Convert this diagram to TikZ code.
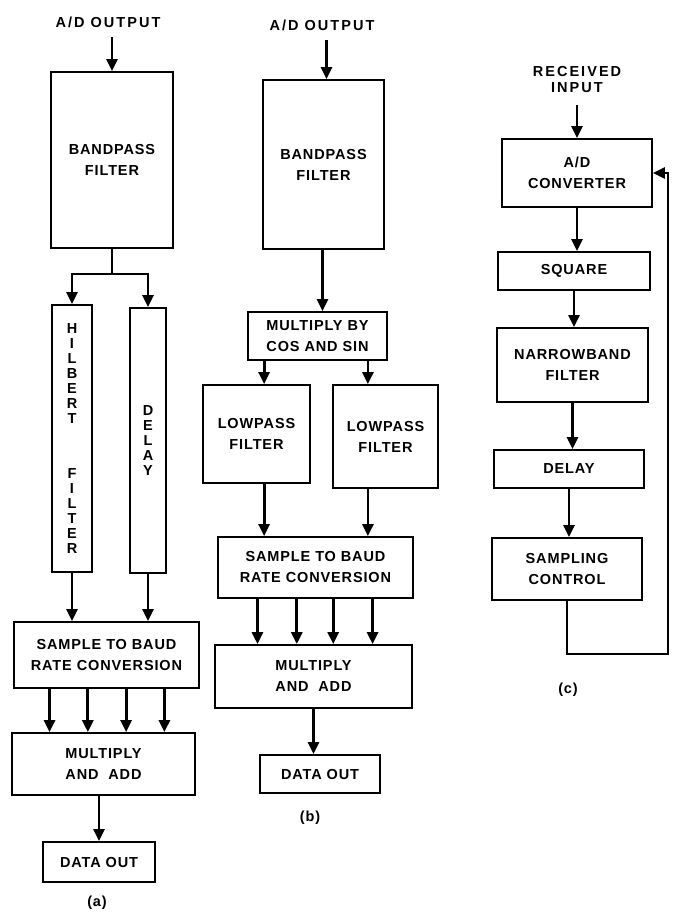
\documentclass[tikz,border=0pt]{standalone}
\usepackage{fontspec}
\setmainfont{Liberation Sans}[LetterSpace=6]
\usetikzlibrary{arrows.meta, calc}

\begin{document}
\begin{tikzpicture}[
    x=1pt, y=-1pt,
    blk/.style={draw, line width=1.8pt, align=center, inner sep=0pt,
                font=\fontsize{14.5}{21}\selectfont\bfseries},
    vblk/.style={blk, font=\fontsize{14.5}{15}\selectfont\bfseries},
    lbl/.style={align=center, font=\fontsize{14.5}{16}\selectfont\bfseries\addfontfeatures{LetterSpace=14}},
    sublbl/.style={font=\fontsize{14.5}{16}\selectfont\bfseries},
    arr/.style={-{Triangle[length=12pt, width=11pt]}, line width=2.8pt},
    wire/.style={line width=2.8pt}
  ]
  \useasboundingbox (0,0) rectangle (673,912);

  % (a) Hilbert filter receiver
  \node[lbl] (inA) at (108,22) {A/D OUTPUT};
  \node[blk, minimum width=122pt, minimum height=176pt] (bpA) at (112,160) {BANDPASS\\FILTER};
  \node[vblk, minimum width=40pt, minimum height=267pt] (hil) at (72,438.5)
    {H\\I\\L\\B\\E\\R\\T\\[40pt]F\\I\\L\\T\\E\\R};
  \node[vblk, minimum width=36pt, minimum height=265pt] (dly) at (148,440.5)
    {D\\E\\L\\A\\Y};
  \node[blk, minimum width=185pt, minimum height=66pt] (samA) at (106.5,655)
    {SAMPLE TO BAUD\\RATE CONVERSION};
  \node[blk, minimum width=183pt, minimum height=62pt] (mulA) at (103.5,764)
    {MULTIPLY\\AND\ \ ADD};
  \node[blk, minimum width=112pt, minimum height=40pt] (outA) at (99,862) {DATA OUT};
  \node[sublbl] (capA) at (97,903) {(a)};

  \draw[arr] (inA.south -| bpA.north) ++(0,6) -- (bpA.north);
  \draw[wire] (bpA.south) -- ++(0,25) coordinate (spl);
  \draw[arr] (spl) -| (hil.north);
  \draw[arr] (spl) -| (dly.north);
  \draw[arr] (hil.south) -- (hil.south |- samA.north);
  \draw[arr] (dly.south) -- (dly.south |- samA.north);
  \foreach \f in {0.195, 0.4, 0.605, 0.81} {
    \coordinate (t) at ($(samA.south west)!\f!(samA.south east)$);
    \draw[arr] (t) -- (t |- mulA.north);
  }
  \draw[arr] (mulA.south -| outA.north) -- (outA.north);

  % (b) quadrature mixing receiver
  \node[lbl] (inB) at (322,25) {A/D OUTPUT};
  \node[blk, minimum width=121pt, minimum height=169pt] (bpB) at (323.5,164.5) {BANDPASS\\FILTER};
  \node[blk, minimum width=139pt, minimum height=48pt] (mcB) at (317.5,336)
    {MULTIPLY BY\\COS AND SIN};
  \node[blk, minimum width=107pt, minimum height=98pt] (lp1) at (256.5,434) {LOWPASS\\FILTER};
  \node[blk, minimum width=105pt, minimum height=103pt] (lp2) at (385.5,436.5) {LOWPASS\\FILTER};
  \node[blk, minimum width=195pt, minimum height=61pt] (sB) at (315.5,567.5)
    {SAMPLE TO BAUD\\RATE CONVERSION};
  \node[blk, minimum width=197pt, minimum height=63pt] (maB) at (313.5,676.5)
    {MULTIPLY\\AND\ \ ADD};
  \node[blk, minimum width=120pt, minimum height=38pt] (outB) at (320,774) {DATA OUT};
  \node[sublbl] (capB) at (310,818) {(b)};

  \draw[arr] (inB.south -| bpB.north) ++(3,6) -- ([xshift=3pt]bpB.north);
  \draw[arr] (bpB.south -| mcB.north) ++(5,0) -- ([xshift=5pt]mcB.north);
  \coordinate (colL) at ([xshift=17pt]mcB.south west);
  \coordinate (colR) at ([xshift=-20pt]mcB.south east);
  \draw[arr] (colL) -- (colL |- lp1.north);
  \draw[arr] (colR) -- (colR |- lp2.north);
  \draw[arr] (lp1.south -| colL) -- (colL |- sB.north);
  \draw[arr] (lp2.south -| colR) -- (colR |- sB.north);
  \foreach \f in {0.205, 0.405, 0.59, 0.79} {
    \coordinate (t) at ($(sB.south west)!\f!(sB.south east)$);
    \draw[arr] (t) -- (t |- maB.north);
  }
  \draw[arr] (maB.south) -- (maB.south |- outB.north);

  % (c) timing recovery
  \node[lbl] (inC) at (577,80) {RECEIVED\\INPUT};
  \node[blk, minimum width=150pt, minimum height=68pt] (adC) at (577,173) {A/D\\CONVERTER};
  \node[blk, minimum width=152pt, minimum height=38pt] (sqC) at (574,271) {SQUARE};
  \node[blk, minimum width=151pt, minimum height=74pt] (nbC) at (572.5,365) {NARROWBAND\\FILTER};
  \node[blk, minimum width=150pt, minimum height=38pt] (dlC) at (569,469) {DELAY};
  \node[blk, minimum width=150pt, minimum height=62pt] (scC) at (567,569) {SAMPLING\\CONTROL};
  \node[sublbl] (capC) at (568,690) {(c)};

  \draw[arr] (inC.south) ++(0,8) -- (adC.north);
  \draw[arr] (adC.south) -- (adC.south |- sqC.north);
  \draw[arr] (sqC.south) -- (sqC.south |- nbC.north);
  \draw[arr] (nbC.south) -- (nbC.south |- dlC.north);
  \draw[arr] (dlC.south) -- (dlC.south |- scC.north);
  \draw[arr] (scC.south) -- ++(0,53) -| ([xshift=15pt]adC.east) -- (adC.east);
\end{tikzpicture}
\end{document}
